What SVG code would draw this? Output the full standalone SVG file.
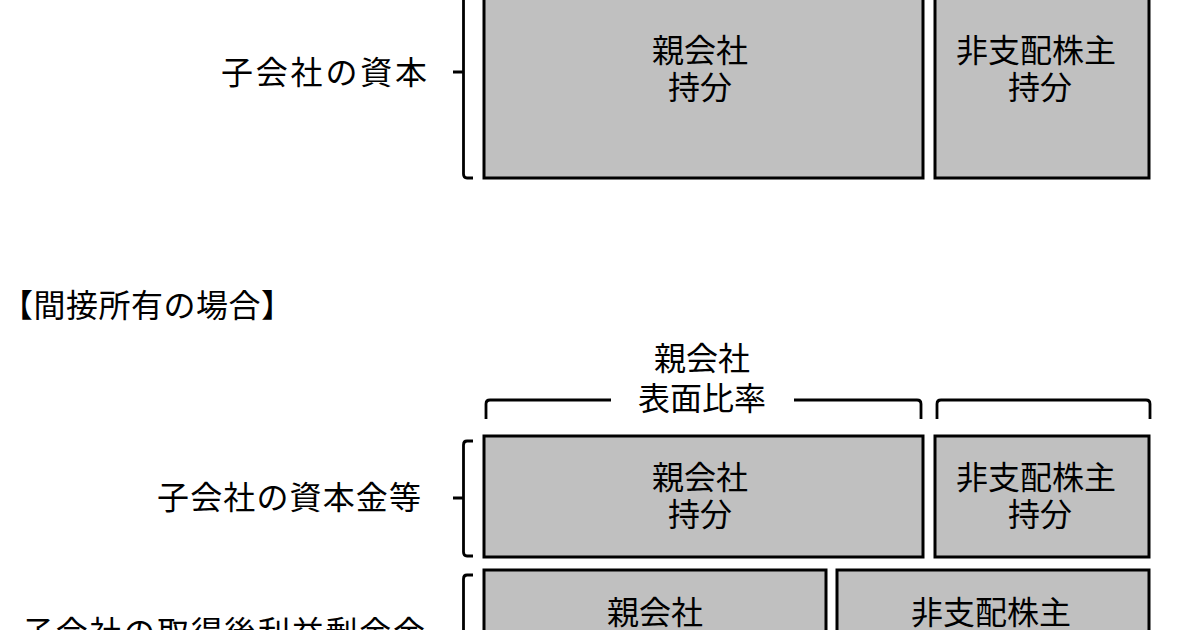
<svg xmlns="http://www.w3.org/2000/svg" width="1200" height="630" viewBox="0 0 1200 630">
<style>
text{font-family:"Noto Sans CJK JP","Noto Sans CJK SC",sans-serif;font-size:32px;fill:#000;dominant-baseline:central}
.c{text-anchor:middle}
.box{fill:#c0c0c0;stroke:#000;stroke-width:3}
.br{fill:none;stroke:#000;stroke-width:2.8;stroke-linejoin:round;stroke-linecap:butt}
</style>
<rect width="1200" height="630" fill="#fff"/>
<g id="top-parent"><rect class="box" x="484" y="-20" width="439" height="198"/><text class="c" x="700" y="48">親会社</text><text class="c" x="700" y="85">持分</text></g>
<g id="top-nci"><rect class="box" x="935" y="-20" width="214" height="198"/><text class="c" x="1036" y="48">非支配株主</text><text class="c" x="1040" y="85">持分</text></g>
<g id="top-label"><text x="221" y="70" textLength="206" lengthAdjust="spacing">子会社の資本</text></g>
<g id="heading"><text x="1" y="303" textLength="292" lengthAdjust="spacing">【間接所有の場合】</text></g>
<g id="ratio-label"><text class="c" x="702" y="356">親会社</text><text class="c" x="702" y="396">表面比率</text></g>
<g id="mid-parent"><rect class="box" x="484" y="436" width="439" height="121"/><text class="c" x="700" y="475">親会社</text><text class="c" x="700" y="512">持分</text></g>
<g id="mid-nci"><rect class="box" x="935" y="436" width="214" height="121"/><text class="c" x="1036" y="475">非支配株主</text><text class="c" x="1040" y="512">持分</text></g>
<g id="mid-label"><text x="157" y="495" textLength="264" lengthAdjust="spacing">子会社の資本金等</text></g>
<g id="bot-parent"><rect class="box" x="484" y="570" width="342" height="80"/><text class="c" x="655" y="610">親会社</text></g>
<g id="bot-nci"><rect class="box" x="837" y="570" width="312" height="80"/><text class="c" x="991" y="610">非支配株主</text></g>
<g id="bot-label"><text x="22" y="630" textLength="403" lengthAdjust="spacing">子会社の取得後利益剰余金</text></g>
<g id="connectors">
<path class="br" d="M473,-10 H467 Q463.5,-10 463.5,-6 V174 Q463.5,178 467,178 H473 M453,72 H463.5"/>
<path class="br" d="M473,441 H467 Q463.5,441 463.5,445 V552 Q463.5,556 467,556 H473 M453,498 H463.5"/>
<path class="br" d="M473,575 H467 Q463.5,575 463.5,579 V640"/>
<path class="br" d="M486,419 V404 Q486,400 490,400 H611 M794,400 H917 Q921,400 921,404 V419"/>
<path class="br" d="M937,419 V404 Q937,400 941,400 H1146 Q1150,400 1150,404 V419"/>
</g>
</svg>
